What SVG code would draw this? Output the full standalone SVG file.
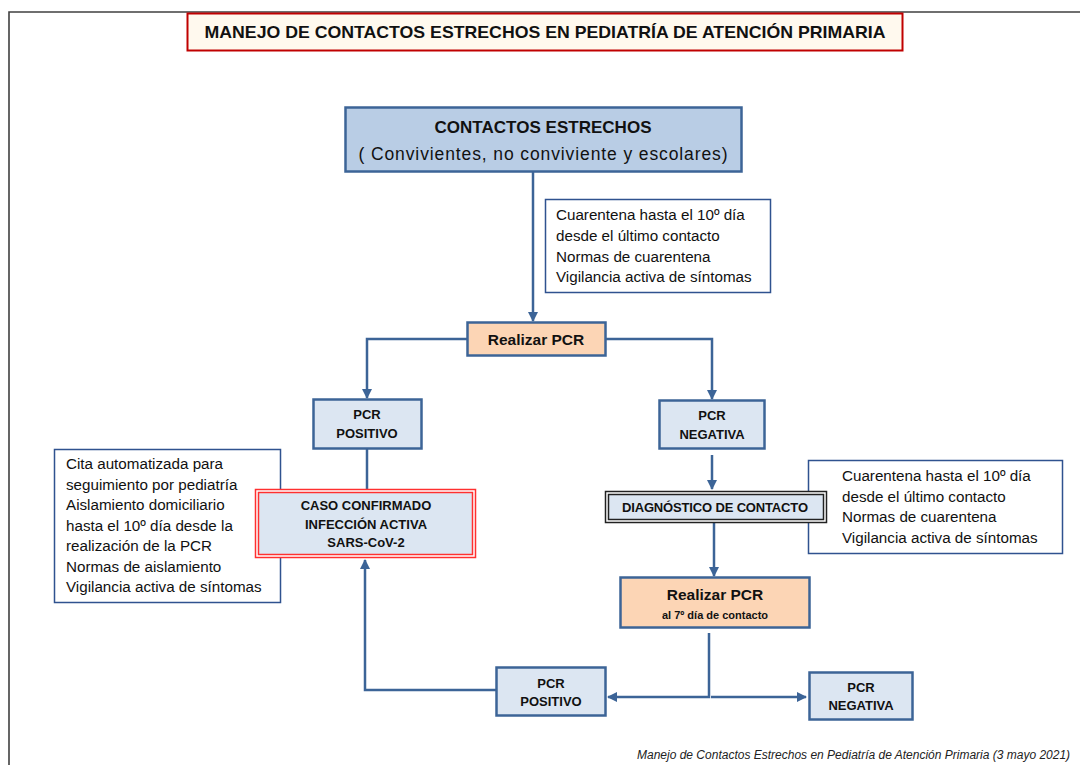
<svg xmlns="http://www.w3.org/2000/svg" width="1080" height="765" viewBox="0 0 1080 765">
<style>
.t{font-family:"Liberation Sans",Arial,sans-serif;fill:#111}
.b{font-weight:bold}
.box{fill:#dce6f2;stroke:#3c6497;stroke-width:2.5}
.peach{fill:#fcd5b5;stroke:#3c6497;stroke-width:2.5}
.note{fill:#fff;stroke:#2f528f;stroke-width:1.5}
.c{fill:none;stroke:#3c6497;stroke-width:2.5}
</style>
<defs>
<marker id="ar" viewBox="0 0 10 10" refX="9" refY="5" markerWidth="10" markerHeight="10" markerUnits="userSpaceOnUse" orient="auto">
<path d="M0,0 L10,5 L0,10 z" fill="#3c6497"/>
</marker>
</defs>
<rect width="1080" height="765" fill="#fff"/>
<g id="frame">
<path d="M9,765 V12 H1080" fill="none" stroke="#404040" stroke-width="1.6"/>
</g>
<g id="title">
<rect x="187.5" y="13.5" width="715" height="37" fill="#fff9ee" stroke="#c00000" stroke-width="2"/>
<text class="t b" x="545" y="38" font-size="17" text-anchor="middle" textLength="681" lengthAdjust="spacingAndGlyphs">MANEJO DE CONTACTOS ESTRECHOS EN PEDIATRÍA DE ATENCIÓN PRIMARIA</text>
</g>
<g id="connectors">
<path class="c" d="M533,172 V321" marker-end="url(#ar)"/>
<path class="c" d="M467,339 H367 V398" marker-end="url(#ar)"/>
<path class="c" d="M606,339 H712 V399" marker-end="url(#ar)"/>
<path class="c" d="M367,449 V489"/>
<path class="c" d="M712,455 V489" marker-end="url(#ar)"/>
<path class="c" d="M714,523 V576" marker-end="url(#ar)"/>
<path class="c" d="M709,633 V697 H608" marker-end="url(#ar)"/>
<path class="c" d="M711,697 H806" marker-end="url(#ar)"/>
<path class="c" d="M496,690 H365 V560" marker-end="url(#ar)"/>
</g>
<g id="contactos">
<rect x="345.5" y="107.5" width="396" height="64" fill="#b9cde5" stroke="#3c6497" stroke-width="2.5"/>
<text class="t b" x="543" y="133" font-size="17" text-anchor="middle" textLength="217">CONTACTOS ESTRECHOS</text>
<text class="t" x="543" y="160" font-size="17.5" text-anchor="middle" textLength="369">( Convivientes, no conviviente y escolares)</text>
</g>
<g id="nota1">
<rect class="note" x="545.5" y="199.5" width="225" height="93"/>
<text class="t" font-size="15.2"><tspan x="556" y="220">Cuarentena hasta el 10º día</tspan><tspan x="556" y="241">desde el último contacto</tspan><tspan x="556" y="262">Normas de cuarentena</tspan><tspan x="556" y="282">Vigilancia activa de síntomas</tspan></text>
</g>
<g id="realizar1">
<rect class="peach" x="467.5" y="322.5" width="138" height="33"/>
<text class="t b" x="536" y="345" font-size="15.5" text-anchor="middle">Realizar PCR</text>
</g>
<g id="pcrpos1">
<rect class="box" x="313.5" y="399.5" width="108" height="49"/>
<text class="t b" font-size="13" text-anchor="middle"><tspan x="367" y="419">PCR</tspan><tspan x="367" y="438">POSITIVO</tspan></text>
</g>
<g id="pcrneg1">
<rect class="box" x="659.5" y="400.5" width="105" height="48"/>
<text class="t b" font-size="13" text-anchor="middle"><tspan x="712" y="420">PCR</tspan><tspan x="712" y="439">NEGATIVA</tspan></text>
</g>
<g id="nota2">
<rect class="note" x="54.5" y="449.5" width="226" height="153"/>
<text class="t" font-size="15.2"><tspan x="66" y="469">Cita automatizada para</tspan><tspan x="66" y="489.5">seguimiento por pediatría</tspan><tspan x="66" y="510">Aislamiento domiciliario</tspan><tspan x="66" y="530.5">hasta el 10º día desde la</tspan><tspan x="66" y="551">realización de la PCR</tspan><tspan x="66" y="571.5">Normas de aislamiento</tspan><tspan x="66" y="592">Vigilancia activa de síntomas</tspan></text>
</g>
<g id="caso">
<rect x="255.5" y="489.5" width="220" height="68" fill="#fff" stroke="#ff3030" stroke-width="1.5"/>
<rect x="258.5" y="492.5" width="214" height="62" fill="#dce6f2" stroke="#ff3030" stroke-width="1.5"/>
<text class="t b" font-size="13" text-anchor="middle"><tspan x="366" y="510">CASO CONFIRMADO</tspan><tspan x="366" y="529">INFECCIÓN ACTIVA</tspan><tspan x="366" y="547">SARS-CoV-2</tspan></text>
</g>
<g id="nota3">
<rect class="note" x="808.5" y="460.5" width="254" height="93"/>
<text class="t" font-size="15.2"><tspan x="842" y="481">Cuarentena hasta el 10º día</tspan><tspan x="842" y="502">desde el último contacto</tspan><tspan x="842" y="522">Normas de cuarentena</tspan><tspan x="842" y="543">Vigilancia activa de síntomas</tspan></text>
</g>
<g id="diagnostico">
<rect x="605.5" y="491.5" width="221" height="31" fill="#fff" stroke="#222" stroke-width="1.5"/>
<rect x="608.5" y="494.5" width="215" height="25" fill="#dce6f2" stroke="#222" stroke-width="1.5"/>
<text class="t b" x="715" y="512" font-size="13" text-anchor="middle" textLength="186">DIAGNÓSTICO DE CONTACTO</text>
</g>
<g id="realizar2">
<rect class="peach" x="620.5" y="577.5" width="189" height="50"/>
<text class="t b" x="715" y="600" font-size="15.5" text-anchor="middle">Realizar PCR</text>
<text class="t b" x="715" y="619" font-size="11" text-anchor="middle">al 7º día de contacto</text>
</g>
<g id="pcrpos2">
<rect class="box" x="496.5" y="667.5" width="109" height="48"/>
<text class="t b" font-size="13" text-anchor="middle"><tspan x="551" y="688">PCR</tspan><tspan x="551" y="706">POSITIVO</tspan></text>
</g>
<g id="pcrneg2">
<rect class="box" x="809.5" y="672.5" width="103" height="47"/>
<text class="t b" font-size="13" text-anchor="middle"><tspan x="861" y="692">PCR</tspan><tspan x="861" y="710">NEGATIVA</tspan></text>
</g>
<g id="footer">
<text x="637" y="759" font-family="'Liberation Sans',Arial,sans-serif" font-style="italic" font-size="12" fill="#222">Manejo de  Contactos Estrechos en Pediatría de Atención Primaria (3 mayo 2021)</text>
</g>
</svg>
